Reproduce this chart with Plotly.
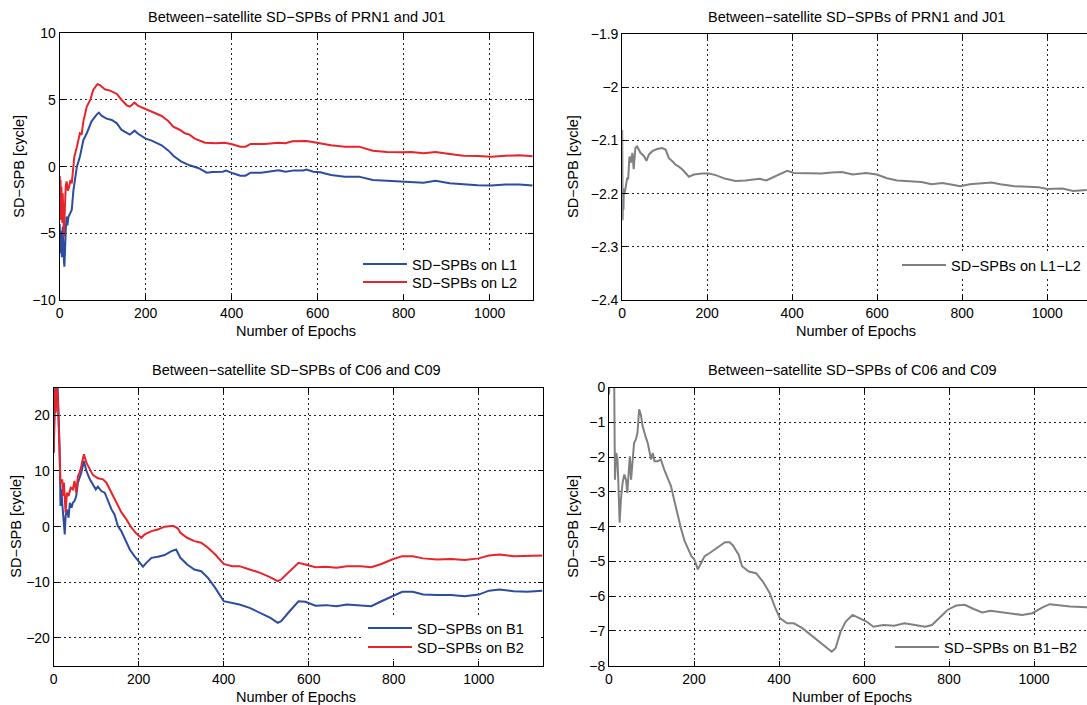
import plotly.graph_objects as go

W, H = 1087, 705
FONT = "Liberation Sans, Arial, Helvetica, sans-serif"
BLUE = "#2c4ca0"
RED = "#e8242b"
GRAY = "#808080"

# ---------------- Top-left: PRN1 / J01, L1 and L2 ----------------
tl_l1_epoch = [0, 1, 2, 3, 4, 5, 6, 7, 8, 9, 10, 11, 12, 14, 16, 18, 20, 24, 28, 32, 36, 40, 47, 55, 63, 74, 86, 91, 98,
               109, 121, 133, 144, 156, 163, 174, 183, 200, 214, 237, 253, 265, 282, 302, 322, 342, 355, 379, 387,
               403, 420, 432, 444, 468, 493, 509, 525, 545, 566, 574, 590, 606, 631, 663, 696, 728, 761, 793, 813,
               846, 874, 907, 939, 972, 1004, 1037, 1069, 1100]
tl_l1_val = [-4.3, -6.5, -4.8, -6.2, -5.0, -6.8, -5.5, -4.5, -6.0, -6.9, -7.2, -7.5, -6.0, -4.8, -3.75, -4.4, -3.8, -3.5,
             -3.25, -1.75, -0.9, 0.0, 0.75, 2.0, 2.5, 3.4, 3.9, 4.05, 3.8, 3.6, 3.5, 3.25, 2.75, 2.5, 2.4, 2.7, 2.45,
             2.1, 1.95, 1.6, 1.2, 0.8, 0.4, 0.1, -0.1, -0.45, -0.4, -0.38, -0.3, -0.5, -0.68, -0.68, -0.45, -0.45,
             -0.38, -0.28, -0.38, -0.28, -0.28, -0.22, -0.38, -0.42, -0.62, -0.75, -0.75, -1.0, -1.05, -1.12, -1.12,
             -1.2, -1.05, -1.25, -1.32, -1.4, -1.42, -1.33, -1.33, -1.42]
tl_l2_epoch = [0, 1, 2, 3, 4, 5, 6, 7, 8, 9, 10, 11, 12, 14, 16, 19, 22, 25, 28, 31, 34, 40, 47, 51, 55, 63, 71, 78, 88,
               94, 105, 117, 133, 144, 156, 163, 174, 183, 200, 214, 237, 253, 264, 280, 291, 302, 314, 338, 363, 383,
               399, 420, 432, 444, 477, 509, 525, 541, 566, 574, 598, 631, 663, 696, 728, 761, 793, 818, 846, 874,
               907, 939, 972, 1004, 1037, 1069, 1100]
tl_l2_val = [-0.7, -3.5, -1.0, -4.0, -1.5, -3.0, -4.2, -2.0, -3.8, -4.8, -5.25, -4.0, -2.5, -1.5, -1.1, -1.8, -1.5, -1.0,
             -1.25, 0.0, 0.75, 1.5, 2.5, 2.4, 3.4, 4.5, 5.0, 5.75, 6.2, 6.1, 5.8, 5.7, 5.45, 5.0, 4.6, 4.5, 4.8, 4.55,
             4.3, 4.1, 3.8, 3.4, 3.0, 2.75, 2.5, 2.4, 2.1, 1.8, 1.75, 1.8, 1.7, 1.5, 1.5, 1.7, 1.7, 1.8, 1.75, 1.9,
             1.9, 1.93, 1.8, 1.6, 1.5, 1.5, 1.2, 1.1, 1.08, 1.1, 1.0, 1.1, 0.95, 0.82, 0.8, 0.75, 0.82, 0.85, 0.78]

# ---------------- Top-right: PRN1 / J01, L1-L2 ----------------
tr_epoch = [0, 1, 2, 3, 4, 6, 9, 12, 14, 17, 20, 22, 24, 27, 29, 31, 35, 39, 43, 51, 57, 63, 71, 82, 94, 102, 110, 118,
            125, 133, 141, 149, 157, 169, 188, 204, 220, 243, 267, 290, 323, 339, 363, 388, 404, 436, 469, 493, 517,
            542, 574, 599, 623, 647, 680, 704, 728, 753, 777, 795, 818, 842, 869, 890, 923, 955, 980, 1000, 1036,
            1061, 1093]
tr_val = [-2.08, -2.25, -2.2, -2.23, -2.19, -2.198, -2.18, -2.17, -2.173, -2.13, -2.142, -2.125, -2.123, -2.154, -2.12,
          -2.114, -2.111, -2.117, -2.123, -2.129, -2.138, -2.126, -2.12, -2.116, -2.114, -2.117, -2.133, -2.139, -2.145,
          -2.149, -2.154, -2.161, -2.168, -2.164, -2.162, -2.162, -2.165, -2.172, -2.176, -2.175, -2.172, -2.175,
          -2.166, -2.157, -2.161, -2.162, -2.162, -2.16, -2.159, -2.164, -2.161, -2.164, -2.171, -2.175, -2.177,
          -2.178, -2.182, -2.18, -2.183, -2.186, -2.182, -2.18, -2.179, -2.182, -2.186, -2.187, -2.188, -2.191,
          -2.19, -2.195, -2.193]

# ---------------- Bottom-left: C06 / C09, B1 and B2 ----------------
bl_b1_epoch = [0, 4, 9, 12, 14, 16, 18, 20, 24, 26, 28, 31, 35, 38, 42, 45, 49, 53, 57, 61, 65, 71, 77, 85, 92, 99, 104,
               112, 120, 128, 136, 143, 151, 159, 171, 179, 190, 202, 210, 218, 230, 245, 261, 277, 288, 298, 314, 331,
               347, 363, 380, 400, 420, 437, 461, 486, 510, 527, 535, 555, 576, 592, 616, 641, 665, 690, 722, 747,
               771, 796, 820, 845, 869, 902, 935, 967, 1000, 1024, 1049, 1082, 1114, 1150]
bl_b1_val = [13.3, 25.5, 26.0, 19.9, 13.9, 3.7, 6.7, 4.3, 0.7, -1.4, 1.9, 3.1, 1.6, 4.3, 3.4, 4.3, 4.6, 5.5, 7.9, 8.8,
             9.7, 11.8, 10.0, 8.5, 7.6, 6.7, 7.2, 6.4, 6.1, 4.6, 3.1, 2.2, 0.1, -0.8, -2.9, -4.1, -5.3, -6.5, -7.2,
             -6.5, -5.6, -5.4, -5.1, -4.4, -4.1, -5.6, -6.8, -7.7, -8.0, -9.2, -11.0, -13.4, -13.7, -14.0, -14.6,
             -15.5, -16.4, -17.3, -17.0, -15.2, -13.4, -13.5, -14.2, -14.1, -14.3, -14.0, -14.1, -14.3, -13.4, -12.5,
             -11.7, -11.7, -12.2, -12.3, -12.3, -12.5, -12.2, -11.5, -11.3, -11.6, -11.7, -11.5]
bl_b2_epoch = [0, 2, 5, 7, 10, 12, 15, 16, 20, 22, 24, 26, 28, 31, 35, 40, 45, 49, 53, 57, 61, 65, 71, 77, 85, 92, 104,
               116, 124, 136, 143, 151, 159, 171, 183, 194, 206, 214, 230, 245, 261, 277, 282, 292, 298, 314, 331, 347,
               363, 380, 400, 420, 437, 461, 486, 510, 527, 535, 555, 576, 592, 616, 641, 665, 690, 722, 747, 771,
               796, 820, 845, 869, 902, 935, 967, 1000, 1024, 1049, 1082, 1114, 1150]
bl_b2_val = [13.3, 24.7, 20.5, 25.5, 22.3, 17.5, 13.9, 7.9, 8.5, 5.5, 7.9, 3.7, 2.5, 6.1, 5.5, 7.0, 6.7, 8.2, 6.1, 9.1,
             9.7, 10.9, 13.0, 11.5, 10.2, 9.3, 8.7, 8.5, 7.9, 6.1, 4.9, 3.7, 2.6, 1.3, -0.2, -1.2, -2.0, -1.4, -0.8,
             -0.5, 0.0, 0.1, 0.1, -0.3, -1.1, -2.0, -2.6, -2.9, -3.8, -5.0, -6.7, -7.1, -7.1, -7.7, -8.3, -9.1, -9.8,
             -9.5, -8.0, -6.5, -6.8, -7.3, -7.2, -7.4, -7.1, -7.1, -7.3, -6.7, -5.9, -5.3, -5.3, -5.7, -5.9, -5.8,
             -6.0, -5.7, -5.2, -5.0, -5.3, -5.3, -5.2]

# ---------------- Bottom-right: C06 / C09, B1-B2 ----------------
br_epoch = [0, 3, 12, 14, 17, 20, 22, 25, 28, 32, 36, 40, 43, 46, 49, 52, 55, 59, 63, 67, 71, 75, 79, 83, 87, 91, 95, 99,
            103, 107, 115, 122, 130, 138, 146, 154, 162, 170, 178, 186, 194, 201, 209, 217, 225, 237, 249, 261, 273,
            284, 292, 305, 313, 329, 346, 362, 378, 390, 402, 419, 435, 455, 476, 492, 508, 524, 533, 545, 557, 573,
            589, 606, 622, 646, 671, 695, 720, 744, 760, 776, 797, 817, 837, 858, 878, 898, 923, 947, 972, 996, 1020,
            1037, 1061, 1085, 1124, 1150]
br_val = [-0.2, 0.5, 0.5, -2.65, -1.88, -2.07, -2.74, -3.89, -3.22, -2.74, -2.5, -2.65, -3.03, -2.41, -1.98, -2.65,
          -2.17, -1.59, -1.5, -1.3, -0.63, -0.78, -1.11, -1.3, -1.45, -1.59, -1.83, -2.07, -1.88, -2.12, -2.12, -2.07,
          -2.36, -2.6, -2.84, -3.27, -3.7, -4.08, -4.42, -4.66, -4.85, -4.95, -5.23, -5.04, -4.85, -4.76, -4.66,
          -4.56, -4.45, -4.45, -4.55, -4.81, -5.14, -5.29, -5.34, -5.58, -5.91, -6.3, -6.63, -6.78, -6.78, -6.92,
          -7.12, -7.29, -7.45, -7.6, -7.5, -7.02, -6.73, -6.54, -6.63, -6.73, -6.88, -6.83, -6.85, -6.78, -6.83,
          -6.88, -6.83, -6.63, -6.39, -6.27, -6.25, -6.37, -6.47, -6.42, -6.46, -6.49, -6.54, -6.49, -6.32, -6.23,
          -6.27, -6.3, -6.32, -6.3]

titles = ["Between\u2212satellite SD\u2212SPBs of PRN1 and J01",
          "Between\u2212satellite SD\u2212SPBs of PRN1 and J01",
          "Between\u2212satellite SD\u2212SPBs of C06 and C09",
          "Between\u2212satellite SD\u2212SPBs of C06 and C09"]
xlabel = "Number of Epochs"
ylabel = "SD\u2212SPB [cycle]"


def px(x):
    return x / W


def py(y):
    return 1 - y / H


fig = go.Figure()

series = [
    (tl_l1_epoch, tl_l1_val, "SD\u2212SPBs on L1", BLUE, "x", "y", "legend"),
    (tl_l2_epoch, tl_l2_val, "SD\u2212SPBs on L2", RED, "x", "y", "legend2"),
    (tr_epoch, tr_val, "SD\u2212SPBs on L1\u2212L2", GRAY, "x2", "y2", "legend3"),
    (bl_b1_epoch, bl_b1_val, "SD\u2212SPBs on B1", BLUE, "x3", "y3", "legend4"),
    (bl_b2_epoch, bl_b2_val, "SD\u2212SPBs on B2", RED, "x3", "y3", "legend5"),
    (br_epoch, br_val, "SD\u2212SPBs on B1\u2212B2", GRAY, "x4", "y4", "legend6"),
]
for xs, ys, name, col, xa, ya, lg in series:
    fig.add_trace(go.Scatter(x=xs, y=ys, mode="lines", name=name, line=dict(color=col, width=2),
                             xaxis=xa, yaxis=ya, legend=lg, showlegend=True))

grid = dict(showgrid=True, gridcolor="#222222", gridwidth=1, griddash="2px,3px", zeroline=False,
            showline=True, linecolor="black", linewidth=1, ticks="inside", ticklen=5, tickcolor="black",
            automargin=False, tickfont=dict(family=FONT, size=14, color="black"))

panels = {
    "1": dict(xd=[px(59.7), px(532.7)], yd=[py(300), py(33.3)], xr=[0, 1100], yr=[-10, 10],
              yt=[-10, -5, 0, 5, 10], ymirror="ticks"),
    "2": dict(xd=[px(622.2), 1.0], yd=[py(300), py(34.3)], xr=[0, 1093.6], yr=[-2.4, -1.9],
              yt=[-2.4, -2.3, -2.2, -2.1, -2.0, -1.9], ymirror=False),
    "3": dict(xd=[px(53.7), px(542.5)], yd=[py(665.8), py(387.5)], xr=[0, 1150], yr=[-25, 25],
              yt=[-20, -10, 0, 10, 20], ymirror="ticks"),
    "4": dict(xd=[px(609), 1.0], yd=[py(665.7), py(387.5)], xr=[0, 1124.7], yr=[-8, 0],
              yt=[-8, -7, -6, -5, -4, -3, -2, -1, 0], ymirror=False),
}
layout = {}
for k, p in panels.items():
    xk = "xaxis" if k == "1" else "xaxis" + k
    yk = "yaxis" if k == "1" else "yaxis" + k
    xa = "x" if k == "1" else "x" + k
    ya = "y" if k == "1" else "y" + k
    layout[xk] = dict(grid, domain=p["xd"], range=p["xr"], anchor=ya, mirror="ticks",
                      tickvals=[0, 200, 400, 600, 800, 1000])
    layout[yk] = dict(grid, domain=p["yd"], range=p["yr"], anchor=xa, mirror=p["ymirror"],
                      tickvals=p["yt"])
fig.update_layout(**layout)

leg = dict(bgcolor="rgba(0,0,0,0)", borderwidth=0, font=dict(family=FONT, size=14.5, color="black"),
           xanchor="left", yanchor="middle", itemwidth=44, tracegroupgap=0, visible=True)
# (line start x, row centre y) in pixels for each single-entry legend
leg_pos = {"legend": (364, 264), "legend2": (364, 282), "legend3": (903, 265),
           "legend4": (369, 628), "legend5": (369, 647), "legend6": (896, 647)}
fig.update_layout(**{k: dict(leg, x=px(x - 6), y=py(y)) for k, (x, y) in leg_pos.items()})

# white legend boxes (hide the grid behind the legend entries), in pixels: x0, x1, y0, y1
legend_boxes = [(358, 531, 251, 294), (897, 1087, 252, 278), (363, 541, 616, 659), (890, 1087, 636, 659)]
shapes = []
for x0, x1, y0, y1 in legend_boxes:
    shapes.append(dict(type="rect", xref="paper", yref="paper", x0=px(x0), x1=px(x1), y0=py(y1), y1=py(y0),
                       fillcolor="white", line=dict(width=0), layer="above"))

ann = []
title_pos = [(296, 16.7), (856, 16.7), (296, 370), (852, 370)]
for t, (x, y) in zip(titles, title_pos):
    ann.append(dict(text=t, x=px(x), y=py(y), xref="paper", yref="paper", showarrow=False,
                    xanchor="center", yanchor="middle", font=dict(family=FONT, size=14.5, color="black")))
for (x, y) in [(296, 331), (856, 331), (296, 697), (852, 697)]:
    ann.append(dict(text=xlabel, x=px(x), y=py(y), xref="paper", yref="paper", showarrow=False,
                    xanchor="center", yanchor="middle", font=dict(family=FONT, size=14.5, color="black")))
for (x, y) in [(19, 166.7), (573, 167), (16, 526.7), (573, 526.7)]:
    ann.append(dict(text=ylabel, x=px(x), y=py(y), xref="paper", yref="paper", showarrow=False, textangle=-90,
                    xanchor="center", yanchor="middle", font=dict(family=FONT, size=14.5, color="black")))

fig.update_layout(
    width=W, height=H, margin=dict(l=0, r=0, t=0, b=0, pad=0),
    paper_bgcolor="white", plot_bgcolor="white", showlegend=True,
    font=dict(family=FONT, size=14, color="black"),
    annotations=ann, shapes=shapes,
)

fig.write_html("out.html")
